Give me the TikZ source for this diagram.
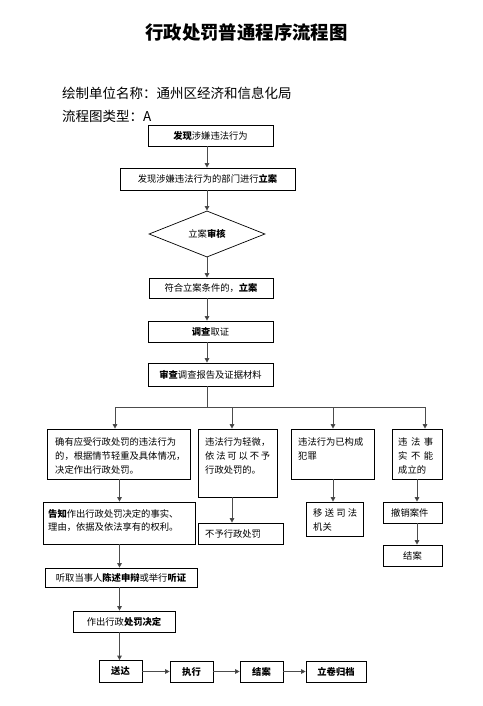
\documentclass[tikz,border=0pt]{standalone}
\usepackage{fontspec}
\setmainfont{Noto Sans CJK SC}
\usetikzlibrary{shapes.geometric,arrows.meta}
\begin{document}
\begin{tikzpicture}[x=1pt,y=-1pt,
  box/.style={draw=black, line width=0.7pt, inner sep=0pt, font=\fontsize{9.3}{13}\selectfont},
  bbox/.style={box, font=\fontsize{9.3}{13}\selectfont\bfseries},
  arr/.style={draw=black!70, line width=1pt, -{Triangle[length=4.5pt,width=4.5pt,fill=black!85]}},
  ln/.style={draw=black!70, line width=1pt},
  txt/.style={inner sep=0pt, anchor=north west, align=left, font=\fontsize{9.3}{14}\selectfont}]
\useasboundingbox (0,0) rectangle (482,706);

\node (title) at (246.5,32) {\fontsize{18.4}{20}\selectfont\bfseries 行政处罚普通程序流程图};
\node[anchor=west, inner sep=0pt] (org) at (62,93) {\fontsize{13.5}{15}\selectfont 绘制单位名称：通州区经济和信息化局};
\node[anchor=west, inner sep=0pt] (typ) at (62,116) {\fontsize{13.5}{15}\selectfont 流程图类型：A};

% main column
\node[box, minimum width=125pt, minimum height=21pt] (b1) at (210.5,135.5) {\textbf{发现}涉嫌违法行为};
\node[box, minimum width=175pt, minimum height=22pt] (b2) at (207.5,179) {发现涉嫌违法行为的部门进行\textbf{立案}};
\node[box, diamond, minimum width=116pt, minimum height=42pt] (dia) at (207,234) {立案\textbf{审核}};
\node[box, minimum width=124pt, minimum height=20pt] (b3) at (211,288) {符合立案条件的，\textbf{立案}};
\node[box, minimum width=125pt, minimum height=21pt] (b4) at (210.5,331.5) {\textbf{调查}取证};
\node[box, minimum width=125pt, minimum height=23pt] (b5) at (210.5,374.5) {\textbf{审查}调查报告及证据材料};

% branch boxes
\node[box, minimum width=143pt, minimum height=50pt] (A) at (118.5,454) {};
\node[txt] (At) at (55,437) {确有应受行政处罚的违法行为\\的，根据情节轻重及具体情况，\\决定作出行政处罚。};
\node[box, minimum width=79pt, minimum height=68pt] (B) at (237.5,463) {};
\node[txt] (Bt) at (205,437) {违法行为轻微，\\\makebox[65pt][s]{依\hfill 法\hfill 可\hfill 以\hfill 不\hfill 予}\\行政处罚的。};
\node[box, minimum width=83pt, minimum height=50pt] (C) at (332.5,454) {};
\node[txt] (Ct) at (298,437) {违法行为已构成\\犯罪};
\node[box, minimum width=50pt, minimum height=50pt] (D) at (417,454) {};
\node[txt] (Dt) at (398,437) {\makebox[35pt][s]{违\hfill 法\hfill 事}\\\makebox[35pt][s]{实\hfill 不\hfill 能}\\成立的};

\node[box, minimum width=152pt, minimum height=42pt] (A2) at (119,523) {};
\node[txt, font=\fontsize{9.3}{13}\selectfont] (A2t) at (48,509) {\textbf{告知}作出行政处罚决定的事实、\\理由，依据及依法享有的权利。};
\node[box, minimum width=85pt, minimum height=21pt] (B2) at (240.5,533.5) {};
\node[txt, anchor=west] (B2t) at (205,533.5) {不予行政处罚};
\node[box, minimum width=57pt, minimum height=34pt] (C2) at (334.5,519) {};
\node[txt] (C2t) at (313,508) {\makebox[44pt][s]{移\hfill 送\hfill 司\hfill 法}\\机关};
\node[box, minimum width=59pt, minimum height=21pt] (D2) at (412.5,512.5) {};
\node[txt, anchor=west] (D2t) at (391,512.5) {撤销案件};
\node[box, minimum width=59pt, minimum height=21pt] (D3) at (412.5,555.5) {结案};

\node[box, minimum width=152pt, minimum height=19pt] (E) at (121,577.5) {听取当事人\textbf{陈述申辩}或举行\textbf{听证}};
\node[box, minimum width=102pt, minimum height=21pt] (F) at (124,621.5) {作出行政\textbf{处罚决定}};

\node[bbox, minimum width=43pt, minimum height=22pt] (G) at (120.5,671.5) {送达};
\node[bbox, minimum width=43pt, minimum height=21pt] (H) at (191.5,671.5) {执行};
\node[bbox, minimum width=43pt, minimum height=21pt] (I) at (261.5,671.5) {结案};
\node[bbox, minimum width=60pt, minimum height=21pt] (J) at (336,671.5) {立卷归档};

% connectors main column
\draw[arr] (b1.south -| dia) -- (b2.north -| dia);
\draw[arr] (b2.south -| dia) -- (dia.north);
\draw[arr] (dia.south) -- (b3.north -| dia);
\draw[arr] (b3.south -| dia) -- (b4.north -| dia);
\draw[arr] (b4.south -| dia) -- (b5.north -| dia);

\coordinate (hub) at (207,407);
\coordinate (hl) at (115,407);
\coordinate (hb) at (232,407);
\coordinate (hc) at (333,407);
\coordinate (hr) at (425,407);
\coordinate (lc) at (119.5,407);
\draw[ln] (b5.south -| dia) -- (hub);
\draw[ln] (hl) -- (hr);
\draw[arr] (hl) -- (hl |- A.north);
\draw[arr] (hb) -- (hb |- B.north);
\draw[arr] (hc) -- (hc |- C.north);
\draw[arr] (hr) -- (hr |- D.north);

\draw[arr] (A.south -| lc) -- (A2.north -| lc);
\draw[arr] (A2.south -| lc) -- (E.north -| lc);
\draw[arr] (E.south -| lc) -- (F.north -| lc);
\draw[arr] (F.south -| lc) -- (G.north -| lc);
\draw[arr] (B.south -| hb) -- (B2.north -| hb);
\draw[arr] (C.south -| hc) -- (C2.north -| hc);
\draw[arr] (D.south) -- (D2.north -| D.south);
\draw[arr] (D2.south -| D.south) -- (D3.north -| D.south);

\draw[arr] (G.east) -- (H.west);
\draw[arr] (H.east) -- (I.west);
\draw[arr] (I.east) -- (J.west);
\end{tikzpicture}
\end{document}
